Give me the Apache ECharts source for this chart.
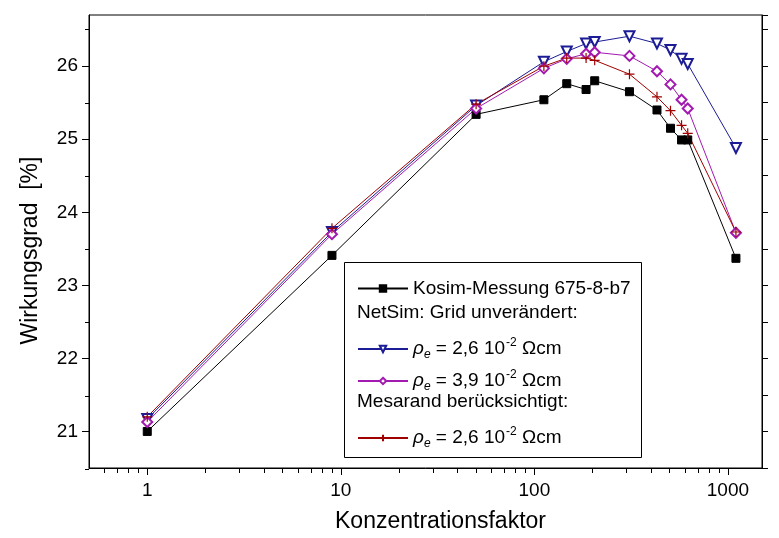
<!DOCTYPE html>
<html>
<head>
<meta charset="utf-8">
<script src="https://cdn.jsdelivr.net/npm/echarts@6/dist/echarts.min.js"></script>
<style>
  html, body { margin: 0; padding: 0; background: #fff; }
  #chart { width: 779px; height: 538px; }
</style>
</head>
<body>
<div id="chart"></div>
<script>
// Konzentrationsfaktor (log axis) and efficiency values in percent
const konzentration = [1, 9, 50, 112, 147, 185, 205, 310, 430, 505, 576, 620, 1100];
const kosimMessung  = [21.00, 23.41, 25.34, 25.54, 25.76, 25.68, 25.80, 25.65, 25.40, 25.15, 24.99, 24.99, 23.37];
const netSimRho26   = [21.17, 23.73, 25.46, 26.06, 26.20, 26.31, 26.33, 26.41, 26.31, 26.22, 26.10, 26.03, 24.88];
const netSimRho39   = [21.13, 23.70, 25.42, 25.97, 26.10, 26.17, 26.19, 26.14, 25.93, 25.75, 25.54, 25.42, 23.72];
const mesarandRho26 = [21.20, 23.78, 25.48, 26.00, 26.11, 26.11, 26.08, 25.89, 25.58, 25.39, 25.19, 25.08, 23.73];

// tick positions
const xMajorTicks = [1, 10, 100, 1000];
const xMinorTicks = [0.6, 0.7, 0.8, 0.9, 2, 3, 4, 5, 6, 7, 8, 9, 20, 30, 40, 50, 60, 70, 80, 90,
                     200, 300, 400, 500, 600, 700, 800, 900];
const yMajorTicks = [21, 22, 23, 24, 25, 26];
const yMinorTicks = [20.5, 21.5, 22.5, 23.5, 24.5, 25.5, 26.5];

const FONT = 'Liberation Sans, Arial, Helvetica, sans-serif';
const X_MIN = 0.5, X_MAX = 1500, Y_MIN = 20.5, Y_MAX = 26.7;
const gridBox = { left: 89, right: 17, top: 15, bottom: 69 };

const pairs = ys => konzentration.map((x, i) => [x, ys[i]]);

const rhoLabel = (v) => '{it|ρ}{sub|e}{n| = ' + v + ' 10}{sup|-2}{n| Ωcm}';
const legendNames = {
  kosim: 'Kosim-Messung 675-8-b7',
  net26: rhoLabel('2,6'),
  net39: rhoLabel('3,9'),
  mesa26: rhoLabel('2,6')
};
const legendText = {
  fontFamily: FONT, fontSize: 19, color: '#000',
  rich: {
    it:  { fontFamily: FONT, fontSize: 19, fontStyle: 'italic', lineHeight: 24, color: '#000' },
    n:   { fontFamily: FONT, fontSize: 19, lineHeight: 24, color: '#000' },
    sub: { fontFamily: FONT, fontSize: 12, fontStyle: 'italic', lineHeight: 12, verticalAlign: 'bottom', color: '#000' },
    sup: { fontFamily: FONT, fontSize: 12, lineHeight: 12, verticalAlign: 'top', padding: [0, 0, 0, 1], color: '#000' }
  }
};
const legendAt = (name, top) => ({
  data: [name], left: 357, top: top, padding: 0,
  orient: 'vertical', itemWidth: 50, itemHeight: 8, itemGap: 0,
  formatter: n => legendNames[n], textStyle: legendText,
  selectedMode: false
});

const black = '#000000', blue = '#1c1c96', purple = '#a21ab0', red = '#a00000';

const chart = echarts.init(document.getElementById('chart'));
chart.setOption({
  animation: false,
  backgroundColor: '#fff',
  grid: [
    Object.assign({ show: true, borderColor: '#000', borderWidth: 1, backgroundColor: 'transparent' }, gridBox),
    Object.assign({ show: false }, gridBox)
  ],
  xAxis: [
    {
      type: 'log', gridIndex: 0, min: X_MIN, max: X_MAX,
      axisLine: { show: true, lineStyle: { color: '#000', width: 1 } },
      axisTick: { show: true, customValues: xMajorTicks, length: 7, lineStyle: { color: '#000' } },
      axisLabel: { customValues: xMajorTicks, fontFamily: FONT, fontSize: 19, color: '#000', margin: 13,
                   formatter: v => String(Math.round(v)) },
      splitLine: { show: false }, minorTick: { show: false },
      name: 'Konzentrationsfaktor', nameLocation: 'middle', nameGap: 42,
      nameTextStyle: { fontFamily: FONT, fontSize: 23, color: '#000', padding: [0, 0, 0, 30] }
    },
    {
      type: 'log', gridIndex: 1, min: X_MIN, max: X_MAX,
      axisLine: { show: false },
      axisTick: { show: true, customValues: xMinorTicks, length: 4, lineStyle: { color: '#000' } },
      axisLabel: { show: false }, splitLine: { show: false }
    }
  ],
  yAxis: [
    {
      type: 'value', gridIndex: 0, min: Y_MIN, max: Y_MAX, position: 'left',
      axisLine: { show: true, lineStyle: { color: '#000', width: 1 } },
      axisTick: { show: true, customValues: yMajorTicks, length: 7, lineStyle: { color: '#000' } },
      axisLabel: { customValues: yMajorTicks, fontFamily: FONT, fontSize: 19, color: '#000', margin: 11,
                   formatter: v => String(Math.round(v)) },
      splitLine: { show: false },
      name: 'Wirkungsgrad  [%]', nameLocation: 'middle', nameGap: 47, nameRotate: 90,
      nameTextStyle: { fontFamily: FONT, fontSize: 23, color: '#000', padding: [0, 18, 0, 0] }
    },
    {
      type: 'value', gridIndex: 0, min: Y_MIN, max: Y_MAX, interval: 0.5, position: 'right',
      axisLine: { show: true, lineStyle: { color: '#000', width: 1 } },
      axisTick: { show: true, length: 6, lineStyle: { color: '#000' } },
      axisLabel: { show: false }, splitLine: { show: false }
    },
    {
      type: 'value', gridIndex: 1, min: Y_MIN, max: Y_MAX, position: 'left',
      axisLine: { show: false },
      axisTick: { show: true, customValues: yMinorTicks, length: 4, lineStyle: { color: '#000' } },
      axisLabel: { show: false }, splitLine: { show: false }
    }
  ],
  legend: [
    legendAt('kosim', 279),
    legendAt('net26', 337),
    legendAt('net39', 369),
    legendAt('mesa26', 426)
  ],
  graphic: [
    { type: 'rect', z: 1, shape: { x: 344.5, y: 262.5, width: 297, height: 195 },
      style: { fill: '#fff', stroke: '#000', lineWidth: 1 } },
    { type: 'text', z: 5, left: 357, top: 303,
      style: { text: 'NetSim: Grid unverändert:', font: '19px ' + FONT, fill: '#000' } },
    { type: 'text', z: 5, left: 357, top: 392,
      style: { text: 'Mesarand berücksichtigt:', font: '19px ' + FONT, fill: '#000' } }
  ],
  series: [
    {
      name: 'kosim', type: 'line', xAxisIndex: 0, yAxisIndex: 0, data: pairs(kosimMessung),
      symbol: 'rect', symbolSize: 8,
      itemStyle: { color: black, borderColor: black, borderWidth: 1 },
      lineStyle: { color: black, width: 1 }
    },
    {
      name: 'net26', type: 'line', xAxisIndex: 0, yAxisIndex: 0, data: pairs(netSimRho26),
      symbol: 'emptyTriangle', symbolRotate: 180, symbolSize: 10,
      itemStyle: { color: blue, borderColor: blue, borderWidth: 1 },
      lineStyle: { color: blue, width: 1 }
    },
    {
      name: 'net39', type: 'line', xAxisIndex: 0, yAxisIndex: 0, data: pairs(netSimRho39),
      symbol: 'emptyDiamond', symbolSize: 10,
      itemStyle: { color: purple, borderColor: purple, borderWidth: 1 },
      lineStyle: { color: purple, width: 1 }
    },
    {
      name: 'mesa26', type: 'line', xAxisIndex: 0, yAxisIndex: 0, data: pairs(mesarandRho26),
      symbol: 'path://M5,0L5,10M0,5L10,5', symbolSize: 10,
      itemStyle: { color: 'none', borderColor: red, borderWidth: 1.2 },
      lineStyle: { color: red, width: 1 }
    }
  ]
});
</script>
</body>
</html>
